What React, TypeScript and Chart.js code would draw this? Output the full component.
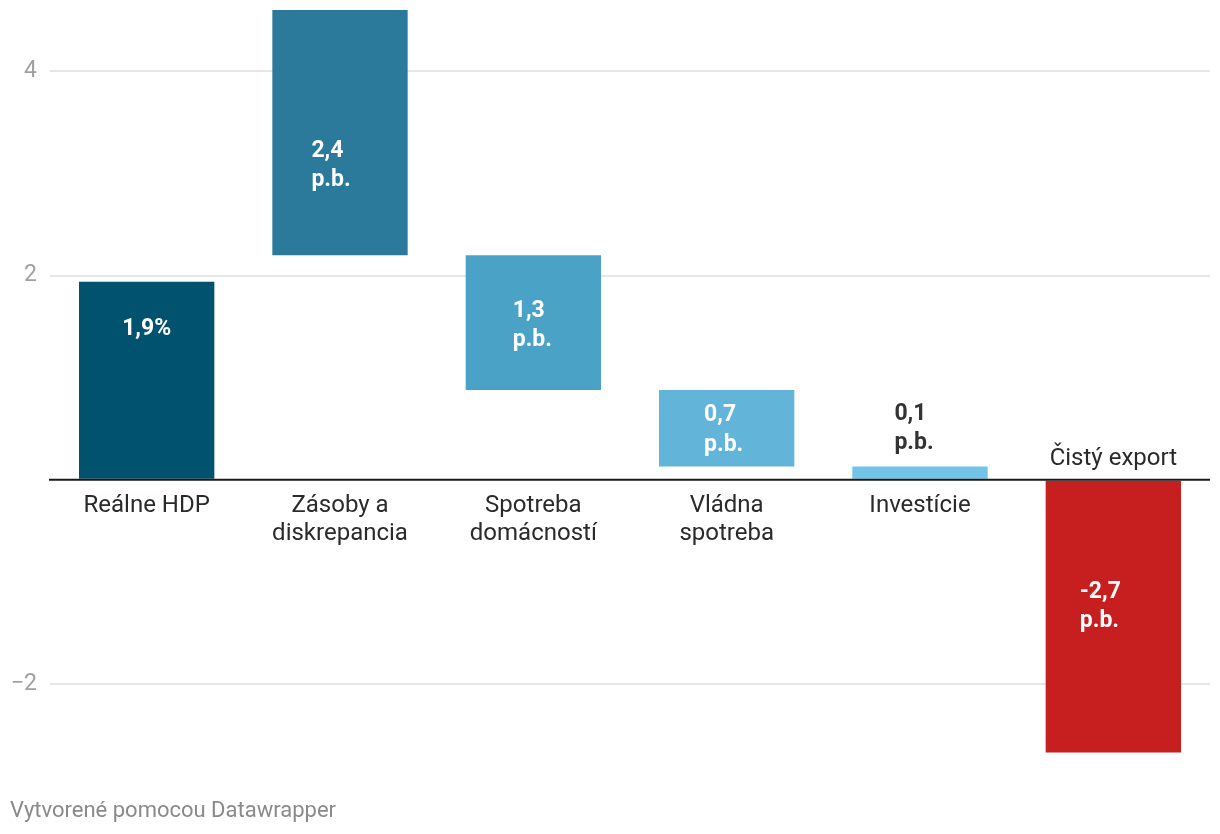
import React, { useEffect, useRef } from 'react';
import { Chart, registerables } from 'chart.js';

Chart.register(...registerables);

// ---- Data ----
const categories: string[][] = [
  ['Reálne HDP'],
  ['Zásoby a', 'diskrepancia'],
  ['Spotreba', 'domácností'],
  ['Vládna', 'spotreba'],
  ['Investície'],
  ['Čistý export'],
];
const barStarts = [0, 2.2, 0.88, 0.13, 0, -2.67];
const barEnds = [1.94, 4.6, 2.2, 0.88, 0.13, 0];
const valueLabels: string[][] = [
  ['1,9%'],
  ['2,4', 'p.b.'],
  ['1,3', 'p.b.'],
  ['0,7', 'p.b.'],
  ['0,1', 'p.b.'],
  ['-2,7', 'p.b.'],
];
const yTicks = [-2, 0, 2, 4];
const footerText = 'Vytvorené pomocou Datawrapper';

const barColors = ['#01526f', '#2b7a9c', '#4aa2c6', '#62b4d9', '#72c4e9', '#c71e1f'];

const FONT = 'Roboto, "Noto Sans", sans-serif';

const overlayPlugin = {
  id: 'overlay',
  afterDatasetsDraw(chart: any) {
    const { ctx, chartArea, scales } = chart;
    const y0 = scales.y.getPixelForValue(0);
    const meta = chart.getDatasetMeta(0);

    // zero line
    ctx.save();
    ctx.strokeStyle = '#1a1a1a';
    ctx.lineWidth = 2;
    ctx.beginPath();
    ctx.moveTo(chartArea.left - 1, y0);
    ctx.lineTo(chartArea.right, y0);
    ctx.stroke();

    // value labels
    const dxs = [0, -9, -1, -3, -6, -13];
    const dys = [-51, 33, 3, 2, -44, -10];
    const lh = 29.5;
    ctx.font = `bold 23px ${FONT}`;
    ctx.textBaseline = 'middle';
    ctx.textAlign = 'left';
    meta.data.forEach((el: any, i: number) => {
      const top = Math.min(el.y, el.base);
      const bottom = Math.max(el.y, el.base);
      const cy = (top + bottom) / 2 + dys[i];
      const lines = valueLabels[i];
      const w = Math.max(...lines.map((l) => ctx.measureText(l).width));
      const left = el.x - w / 2 + dxs[i];
      ctx.fillStyle = i === 4 ? '#333333' : '#ffffff';
      lines.forEach((l, k) => {
        ctx.fillText(l, left, cy + (k - (lines.length - 1) / 2) * lh);
      });
    });

    // category labels
    ctx.font = `24px ${FONT}`;
    ctx.textAlign = 'center';
    ctx.fillStyle = '#2a2a2a';
    meta.data.forEach((el: any, i: number) => {
      const lines = categories[i];
      const below = barEnds[i] > 0 || barStarts[i] > 0;
      lines.forEach((l, k) => {
        const y = below ? y0 + 26 + k * 28 : y0 - 21 - (lines.length - 1 - k) * 28;
        ctx.fillText(l, el.x, y);
      });
    });
    ctx.restore();
  },
  afterDraw(chart: any) {
    const { ctx } = chart;
    ctx.save();
    ctx.font = `22px ${FONT}`;
    ctx.fillStyle = '#8a8a8a';
    ctx.textAlign = 'left';
    ctx.textBaseline = 'alphabetic';
    ctx.fillText(footerText, 10, 817);
    ctx.restore();
  },
};

export default function App() {
  const ref = useRef<HTMLCanvasElement>(null);

  useEffect(() => {
    if (!ref.current) return;
    const chart = new Chart(ref.current, {
      type: 'bar',
      data: {
        labels: categories.map((c) => c.join(' ')),
        datasets: [
          {
            data: barStarts.map((s, i) => [s, barEnds[i]]) as any,
            backgroundColor: barColors,
            borderWidth: 0,
            barPercentage: 0.7,
            categoryPercentage: 1,
          },
        ],
      },
      options: {
        animation: false,
        responsive: true,
        maintainAspectRatio: false,
        layout: { padding: { top: 10, right: 10, bottom: 78.4, left: 0 } },
        plugins: { legend: { display: false }, tooltip: { enabled: false } },
        scales: {
          x: {
            type: 'category',
            display: false,
            grid: { display: false },
          },
          y: {
            min: -2.7,
            max: 4.6,
            border: { display: false },
            afterFit(scale: any) {
              scale.width = 50;
              scale.paddingTop = 0;
              scale.paddingBottom = 0;
            },
            afterBuildTicks(scale: any) {
              scale.ticks = yTicks.map((v) => ({ value: v }));
            },
            grid: {
              drawTicks: false,
              tickLength: 0,
              lineWidth: 2,
              color: (c: any) => (c.tick && c.tick.value === 0 ? 'rgba(0,0,0,0)' : '#e6e6e6'),
            },
            ticks: {
              padding: 13,
              color: '#a0a0a0',
              font: { family: FONT, size: 23 },
              callback: (v: any) => (v === 0 ? '' : v < 0 ? '−' + Math.abs(v) : String(v)),
            },
          },
        },
      },
      plugins: [overlayPlugin],
    });
    return () => chart.destroy();
  }, []);

  return (
    <div style={{ position: 'absolute', left: 0, top: 0, width: 1220, height: 834, background: '#fff' }}>
      <canvas ref={ref} />
    </div>
  );
}
